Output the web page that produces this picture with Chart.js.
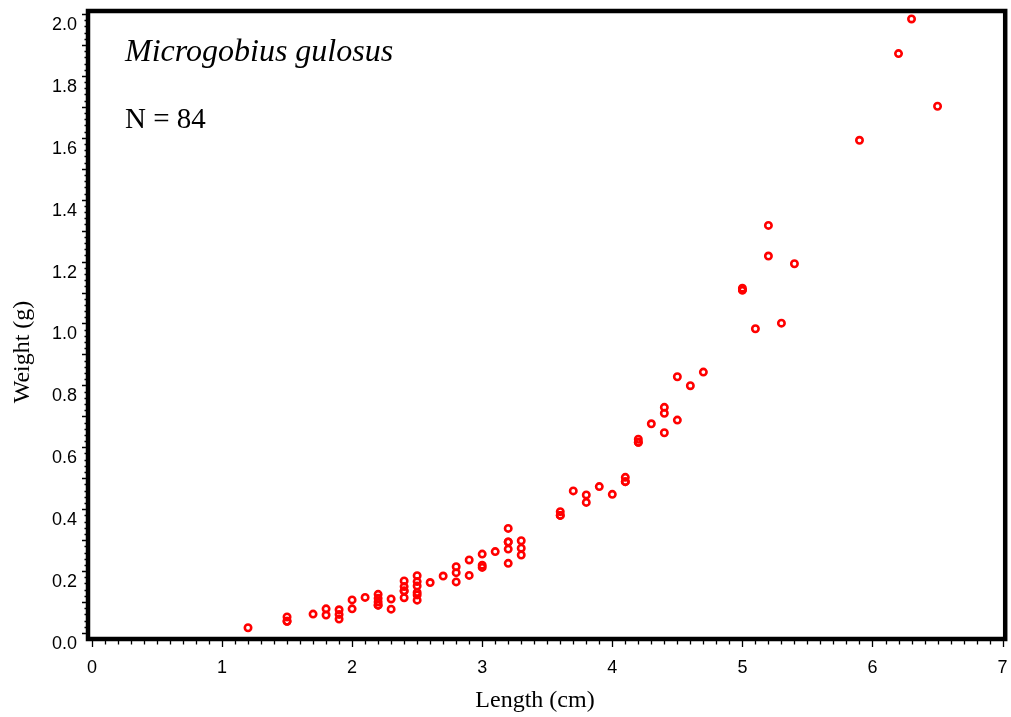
<!DOCTYPE html>
<html>
<head>
<meta charset="utf-8">
<title>Microgobius gulosus - length / weight</title>
<script src="https://cdn.jsdelivr.net/npm/chart.js@4.4.0/dist/chart.umd.min.js"></script>
<style>
    html, body { margin: 0; padding: 0; background: #fff; }
    #wrap { width: 1011px; height: 717px; }
</style>
</head>
<body>
<div id="wrap"><canvas id="lwChart" width="1011" height="717"></canvas></div>
<script>
// Species label and axis titles
const speciesName = 'Microgobius gulosus';
const xTitle = 'Length (cm)';
const yTitle = 'Weight (g)';

// Total length (cm) of each fish
const lengths = [
    1.2,
    1.5, 1.5, 1.5,
    1.7,
    1.8, 1.8,
    1.9, 1.9, 1.9,
    2.0, 2.0,
    2.1,
    2.2, 2.2, 2.2, 2.2, 2.2,
    2.3, 2.3,
    2.4, 2.4, 2.4, 2.4, 2.4,
    2.5, 2.5, 2.5, 2.5, 2.5, 2.5,
    2.6,
    2.7,
    2.8, 2.8, 2.8,
    2.9, 2.9,
    3.0, 3.0, 3.0,
    3.1,
    3.2, 3.2, 3.2, 3.2, 3.2,
    3.3, 3.3, 3.3,
    3.6, 3.6, 3.6,
    3.7,
    3.8, 3.8,
    3.9,
    4.0,
    4.1, 4.1, 4.1,
    4.2, 4.2, 4.2,
    4.3,
    4.4, 4.4, 4.4,
    4.5, 4.5,
    4.6,
    4.7,
    5.0, 5.0, 5.0,
    5.1,
    5.2, 5.2,
    5.3,
    5.4,
    5.9,
    6.2,
    6.3,
    6.5
];

// Weight (g), same order as lengths
const weights = [
    0.017,
    0.052, 0.038, 0.038,
    0.061,
    0.078, 0.058,
    0.075, 0.060, 0.045,
    0.107, 0.078,
    0.115,
    0.125, 0.112, 0.100, 0.090, 0.090,
    0.110, 0.077,
    0.168, 0.150, 0.136, 0.136, 0.114,
    0.185, 0.166, 0.152, 0.131, 0.123, 0.106,
    0.163,
    0.184,
    0.214, 0.195, 0.165,
    0.236, 0.186,
    0.255, 0.219, 0.212,
    0.263,
    0.338, 0.294, 0.294, 0.271, 0.225,
    0.298, 0.274, 0.252,
    0.392, 0.380, 0.380,
    0.459,
    0.446, 0.422,
    0.473,
    0.448,
    0.503, 0.489, 0.489,
    0.626, 0.616, 0.616,
    0.676,
    0.729, 0.710, 0.647,
    0.828, 0.688,
    0.799,
    0.843,
    1.114, 1.108, 1.108,
    0.983,
    1.317, 1.218,
    1.001,
    1.193,
    1.592,
    1.872,
    1.984,
    1.702
];

// Axis tick labels
const xTicks = [0, 1, 2, 3, 4, 5, 6, 7];
const yTicks = [0.0, 0.2, 0.4, 0.6, 0.8, 1.0, 1.2, 1.4, 1.6, 1.8, 2.0];

const points = lengths.map((l, i) => ({ x: l, y: weights[i] }));

// Thick frame, outward tick marks, axis titles and the text in the corner
const frameAndTicks = {
    id: 'frameAndTicks',
    afterDraw(chart) {
        const { ctx, chartArea: a, scales } = chart;
        const xs = scales.x, ys = scales.y;
        ctx.save();
        ctx.strokeStyle = '#000';
        ctx.lineWidth = 1.3;
        ctx.beginPath();
        // x: every 0.1, longer at whole numbers
        for (let i = 0; i <= 70; i++) {
            const px = Math.round(xs.getPixelForValue(i / 10)) + 0.5;
            const len = i % 10 === 0 ? 6 : 3.5;
            ctx.moveTo(px, a.bottom + 2);
            ctx.lineTo(px, a.bottom + 2 + len);
        }
        // y: every 0.02, longer every 0.1
        for (let i = 0; i <= 100; i++) {
            const py = Math.round(ys.getPixelForValue(i / 50)) + 0.5;
            const len = i % 5 === 0 ? 4 : 1.5;
            ctx.moveTo(a.left - 2, py);
            ctx.lineTo(a.left - 2 - len, py);
        }
        ctx.stroke();

        ctx.lineWidth = 4.5;
        ctx.strokeRect(a.left, a.top, a.right - a.left, a.bottom - a.top);

        ctx.fillStyle = '#000';
        ctx.textAlign = 'left';
        ctx.textBaseline = 'alphabetic';
        ctx.font = 'italic 32px "Liberation Serif", serif';
        ctx.fillText(speciesName, 125, 61);
        ctx.font = '29px "Liberation Serif", serif';
        ctx.fillText('N = ' + lengths.length, 125, 128);

        // axis titles
        ctx.font = '24px "Liberation Serif", serif';
        ctx.textAlign = 'center';
        ctx.textBaseline = 'middle';
        ctx.fillText(xTitle, 535, 701);
        ctx.translate(23, 352);
        ctx.rotate(-Math.PI / 2);
        ctx.fillText(yTitle, 0, 0);
        ctx.restore();
    }
};

const ctx = document.getElementById('lwChart').getContext('2d');
new Chart(ctx, {
    type: 'scatter',
    data: {
        datasets: [{
            label: speciesName,
            data: points,
            pointStyle: 'circle',
            pointRadius: 3.2,
            pointHoverRadius: 3.2,
            pointBorderWidth: 2.6,
            pointBorderColor: '#ff0000',
            pointBackgroundColor: 'rgba(0,0,0,0)'
        }]
    },
    options: {
        responsive: false,
        animation: false,
        layout: {
            padding: { top: 11, right: 3, left: 0, bottom: 0 }
        },
        plugins: {
            legend: { display: false },
            tooltip: { enabled: false }
        },
        scales: {
            x: {
                type: 'linear',
                min: -0.03,
                max: 7.02,
                afterBuildTicks: scale => {
                    scale.ticks = xTicks.map(v => ({ value: v }));
                },
                afterFit: scale => {
                    scale.height = 78;
                    scale.paddingLeft = 0;
                    scale.paddingRight = 0;
                },
                grid: { display: false, drawTicks: false },
                border: { display: false },
                ticks: {
                    color: '#000',
                    padding: 18,
                    maxRotation: 0,
                    font: { family: '"Liberation Sans", Arial, sans-serif', size: 18 },
                    callback: v => String(v)
                },
                title: { display: false }
            },
            y: {
                type: 'linear',
                min: -0.0194,
                max: 2.0097,
                afterBuildTicks: scale => {
                    scale.ticks = yTicks.map(v => ({ value: v }));
                },
                afterFit: scale => {
                    scale.width = 88;
                    scale.paddingTop = 0;
                    scale.paddingBottom = 0;
                },
                grid: { display: false, drawTicks: false },
                border: { display: false },
                ticks: {
                    color: '#000',
                    padding: 11,
                    labelOffset: 11,
                    font: { family: '"Liberation Sans", Arial, sans-serif', size: 18 },
                    callback: v => Number(v).toFixed(1)
                },
                title: { display: false }
            }
        }
    },
    plugins: [frameAndTicks]
});
</script>
</body>
</html>
